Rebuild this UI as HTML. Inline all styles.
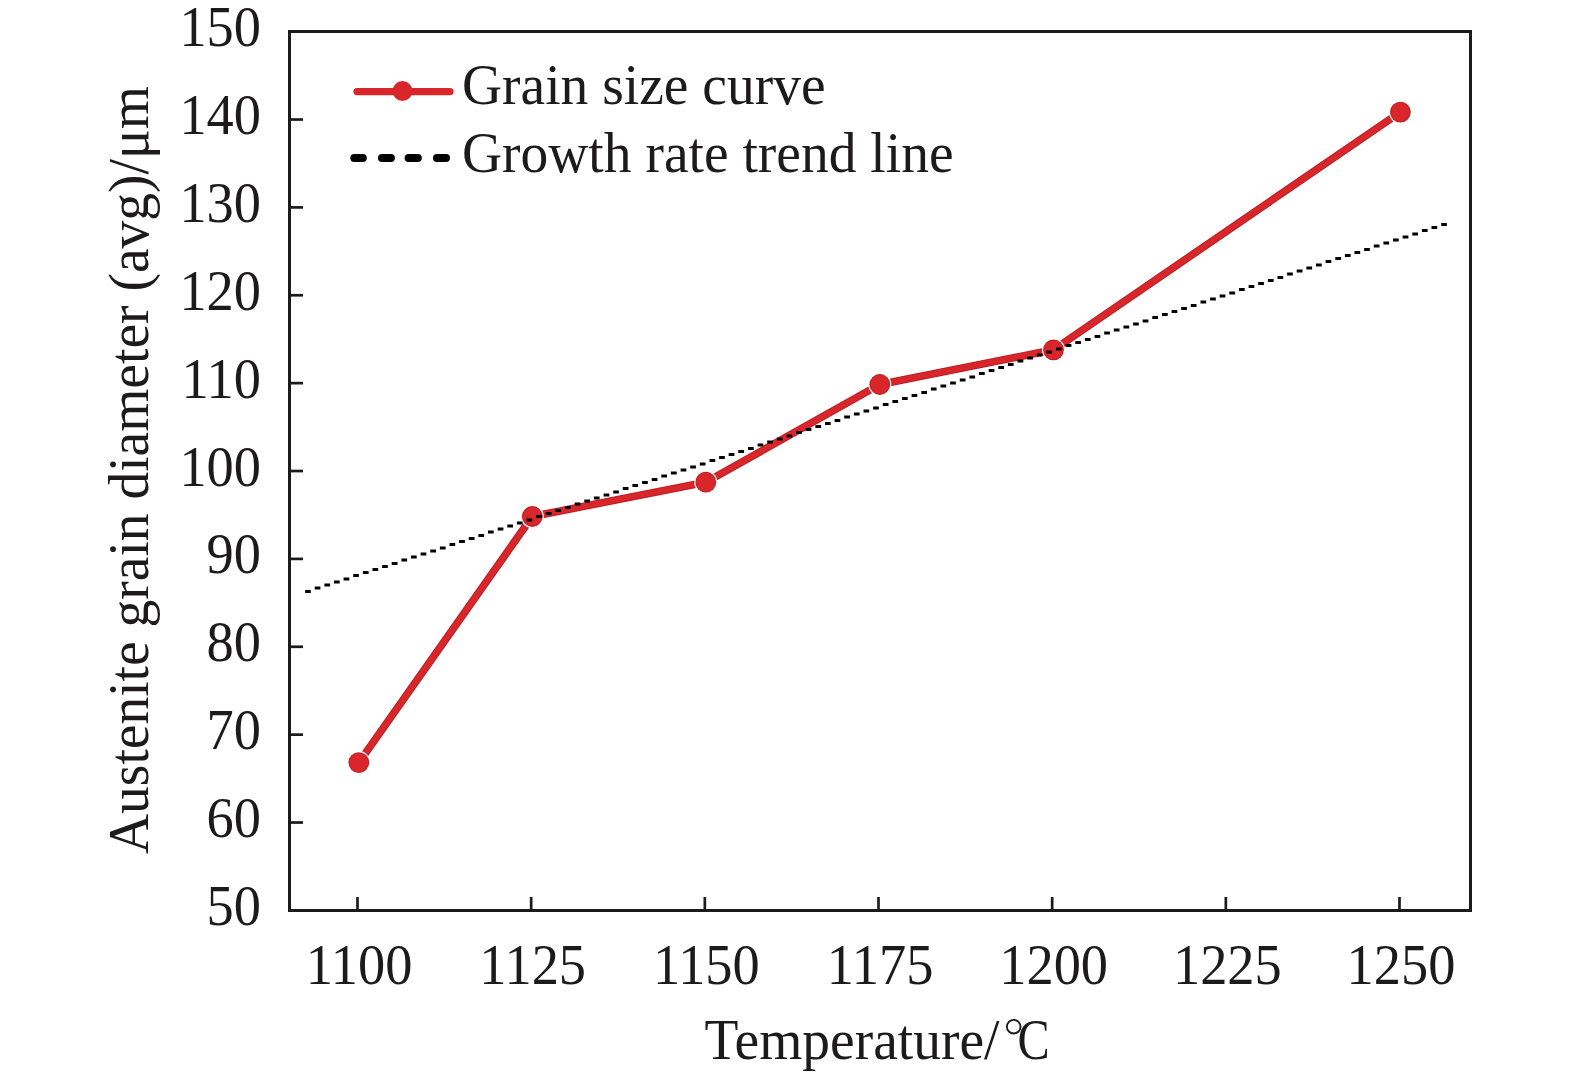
<!DOCTYPE html>
<html><head><meta charset="utf-8"><style>
html,body{margin:0;padding:0;background:#fff;width:1575px;height:1077px;overflow:hidden}
svg{display:block}
.t{font-family:"Liberation Serif",serif;font-size:55.5px;fill:#1d1a1b}
</style></head><body>
<svg width="1575" height="1077" viewBox="0 0 1575 1077">
<rect x="289.5" y="31.5" width="1181" height="879" fill="none" stroke="#1d1a1b" stroke-width="3"/>
<line x1="289.5" y1="822.52" x2="303" y2="822.52" stroke="#1d1a1b" stroke-width="2.7"/>
<line x1="289.5" y1="734.65" x2="303" y2="734.65" stroke="#1d1a1b" stroke-width="2.7"/>
<line x1="289.5" y1="646.77" x2="303" y2="646.77" stroke="#1d1a1b" stroke-width="2.7"/>
<line x1="289.5" y1="558.90" x2="303" y2="558.90" stroke="#1d1a1b" stroke-width="2.7"/>
<line x1="289.5" y1="471.02" x2="303" y2="471.02" stroke="#1d1a1b" stroke-width="2.7"/>
<line x1="289.5" y1="383.15" x2="303" y2="383.15" stroke="#1d1a1b" stroke-width="2.7"/>
<line x1="289.5" y1="295.27" x2="303" y2="295.27" stroke="#1d1a1b" stroke-width="2.7"/>
<line x1="289.5" y1="207.40" x2="303" y2="207.40" stroke="#1d1a1b" stroke-width="2.7"/>
<line x1="289.5" y1="119.52" x2="303" y2="119.52" stroke="#1d1a1b" stroke-width="2.7"/>
<line x1="357.50" y1="909" x2="357.50" y2="897" stroke="#1d1a1b" stroke-width="2.7"/>
<line x1="531.17" y1="909" x2="531.17" y2="897" stroke="#1d1a1b" stroke-width="2.7"/>
<line x1="704.83" y1="909" x2="704.83" y2="897" stroke="#1d1a1b" stroke-width="2.7"/>
<line x1="878.50" y1="909" x2="878.50" y2="897" stroke="#1d1a1b" stroke-width="2.7"/>
<line x1="1052.17" y1="909" x2="1052.17" y2="897" stroke="#1d1a1b" stroke-width="2.7"/>
<line x1="1225.83" y1="909" x2="1225.83" y2="897" stroke="#1d1a1b" stroke-width="2.7"/>
<line x1="1399.50" y1="909" x2="1399.50" y2="897" stroke="#1d1a1b" stroke-width="2.7"/>
<text transform="translate(261.00,924.90) scale(0.98,1.035)" text-anchor="end" class="t">50</text>
<text transform="translate(261.00,837.02) scale(0.98,1.035)" text-anchor="end" class="t">60</text>
<text transform="translate(261.00,749.15) scale(0.98,1.035)" text-anchor="end" class="t">70</text>
<text transform="translate(261.00,661.27) scale(0.98,1.035)" text-anchor="end" class="t">80</text>
<text transform="translate(261.00,573.40) scale(0.98,1.035)" text-anchor="end" class="t">90</text>
<text transform="translate(261.00,485.52) scale(0.98,1.035)" text-anchor="end" class="t">100</text>
<text transform="translate(261.00,397.65) scale(0.98,1.035)" text-anchor="end" class="t">110</text>
<text transform="translate(261.00,309.77) scale(0.98,1.035)" text-anchor="end" class="t">120</text>
<text transform="translate(261.00,221.90) scale(0.98,1.035)" text-anchor="end" class="t">130</text>
<text transform="translate(261.00,134.02) scale(0.98,1.035)" text-anchor="end" class="t">140</text>
<text transform="translate(261.00,46.15) scale(0.98,1.035)" text-anchor="end" class="t">150</text>
<text transform="translate(359.00,984.00) scale(0.98,1.035)" text-anchor="middle" class="t">1100</text>
<text transform="translate(532.67,984.00) scale(0.98,1.035)" text-anchor="middle" class="t">1125</text>
<text transform="translate(706.33,984.00) scale(0.98,1.035)" text-anchor="middle" class="t">1150</text>
<text transform="translate(880.00,984.00) scale(0.98,1.035)" text-anchor="middle" class="t">1175</text>
<text transform="translate(1053.67,984.00) scale(0.98,1.035)" text-anchor="middle" class="t">1200</text>
<text transform="translate(1227.33,984.00) scale(0.98,1.035)" text-anchor="middle" class="t">1225</text>
<text transform="translate(1401.00,984.00) scale(0.98,1.035)" text-anchor="middle" class="t">1250</text>
<text transform="translate(704.50,1059.00) scale(1.0,1.035)" class="t">Temperature/</text>
<circle cx="1013.7" cy="1026.7" r="6.8" fill="none" stroke="#1d1a1b" stroke-width="1.8"/>
<text transform="translate(1017.50,1059.00) scale(0.87,1.044)" class="t">C</text>
<text transform="translate(148,854) rotate(-90) scale(1,1.035)" class="t">Austenite grain diameter (avg)/μm</text>
<path d="M358.8,762.6 L532.3,516.5 L705.8,482.2 L879.8,384.5 L1053.5,349.8 L1400.4,112.1" fill="none" stroke="#b51f23" stroke-width="7.6" stroke-linejoin="round"/>
<path d="M358.8,762.6 L532.3,516.5 L705.8,482.2 L879.8,384.5 L1053.5,349.8 L1400.4,112.1" fill="none" stroke="#d9262a" stroke-width="5.8" stroke-linejoin="round"/>
<circle cx="358.8" cy="762.6" r="11.5" fill="#fff"/>
<circle cx="358.8" cy="762.6" r="10.4" fill="#b51f23"/>
<circle cx="358.8" cy="762.6" r="9.6" fill="#d9262a"/>
<circle cx="532.3" cy="516.5" r="11.5" fill="#fff"/>
<circle cx="532.3" cy="516.5" r="10.4" fill="#b51f23"/>
<circle cx="532.3" cy="516.5" r="9.6" fill="#d9262a"/>
<circle cx="705.8" cy="482.2" r="11.5" fill="#fff"/>
<circle cx="705.8" cy="482.2" r="10.4" fill="#b51f23"/>
<circle cx="705.8" cy="482.2" r="9.6" fill="#d9262a"/>
<circle cx="879.8" cy="384.5" r="11.5" fill="#fff"/>
<circle cx="879.8" cy="384.5" r="10.4" fill="#b51f23"/>
<circle cx="879.8" cy="384.5" r="9.6" fill="#d9262a"/>
<circle cx="1053.5" cy="349.8" r="11.5" fill="#fff"/>
<circle cx="1053.5" cy="349.8" r="10.4" fill="#b51f23"/>
<circle cx="1053.5" cy="349.8" r="9.6" fill="#d9262a"/>
<circle cx="1400.4" cy="112.1" r="11.5" fill="#fff"/>
<circle cx="1400.4" cy="112.1" r="10.4" fill="#b51f23"/>
<circle cx="1400.4" cy="112.1" r="9.6" fill="#d9262a"/>
<path d="M305.1 590.1H310.8V592.9H305.1ZM314.7 586.6H320.4V589.4H314.7ZM324.4 583.6H330.1V586.4H324.4ZM334.0 580.6H339.7V583.4H334.0ZM343.6 577.6H349.3V580.4H343.6ZM353.2 574.1H358.9V576.9H353.2ZM362.9 571.1H368.6V573.9H362.9ZM372.5 568.1H378.2V570.9H372.5ZM382.1 565.1H387.8V567.9H382.1ZM391.7 562.1H397.5V564.9H391.7ZM401.4 558.6H407.1V561.4H401.4ZM411.0 555.6H416.7V558.4H411.0ZM420.6 552.6H426.3V555.4H420.6ZM430.3 549.6H436.0V552.4H430.3ZM439.9 546.6H445.6V549.4H439.9ZM449.5 543.1H455.2V545.9H449.5ZM459.1 540.1H464.9V542.9H459.1ZM468.8 537.1H474.5V539.9H468.8ZM478.4 534.1H484.1V536.9H478.4ZM488.0 530.6H493.7V533.4H488.0ZM497.7 527.6H503.4V530.4H497.7ZM507.3 524.6H513.0V527.4H507.3ZM516.9 521.6H522.6V524.4H516.9ZM526.5 518.6H532.2V521.4H526.5ZM536.2 515.1H541.9V517.9H536.2ZM545.8 512.1H551.5V514.9H545.8ZM555.4 509.1H561.1V511.9H555.4ZM565.0 506.1H570.8V508.9H565.0ZM574.7 502.6H580.4V505.4H574.7ZM584.3 499.6H590.0V502.4H584.3ZM593.9 496.6H599.6V499.4H593.9ZM603.6 493.6H609.3V496.4H603.6ZM613.2 490.6H618.9V493.4H613.2ZM622.8 487.1H628.5V489.9H622.8ZM632.4 484.1H638.1V486.9H632.4ZM642.1 481.1H647.8V483.9H642.1ZM651.7 478.1H657.4V480.9H651.7ZM661.3 474.6H667.0V477.4H661.3ZM670.9 471.6H676.7V474.4H670.9ZM680.6 468.6H686.3V471.4H680.6ZM690.2 465.6H695.9V468.4H690.2ZM699.8 462.6H705.5V465.4H699.8ZM709.5 459.1H715.2V461.9H709.5ZM719.1 456.1H724.8V458.9H719.1ZM728.7 453.1H734.4V455.9H728.7ZM738.3 450.1H744.1V452.9H738.3ZM748.0 447.1H753.7V449.9H748.0ZM757.6 443.6H763.3V446.4H757.6ZM767.2 440.6H772.9V443.4H767.2ZM776.9 437.6H782.6V440.4H776.9ZM786.5 434.6H792.2V437.4H786.5ZM796.1 431.1H801.8V433.9H796.1ZM805.7 428.1H811.4V430.9H805.7ZM815.4 425.1H821.1V427.9H815.4ZM825.0 422.1H830.7V424.9H825.0ZM834.6 419.1H840.3V421.9H834.6ZM844.2 415.6H850.0V418.4H844.2ZM853.9 412.6H859.6V415.4H853.9ZM863.5 409.6H869.2V412.4H863.5ZM873.1 406.6H878.8V409.4H873.1ZM882.8 403.1H888.5V405.9H882.8ZM892.4 400.1H898.1V402.9H892.4ZM902.0 397.1H907.7V399.9H902.0ZM911.6 394.1H917.3V396.9H911.6ZM921.3 391.1H927.0V393.9H921.3ZM930.9 387.6H936.6V390.4H930.9ZM940.5 384.6H946.2V387.4H940.5ZM950.1 381.6H955.9V384.4H950.1ZM959.8 378.6H965.5V381.4H959.8ZM969.4 375.6H975.1V378.4H969.4ZM979.0 372.1H984.7V374.9H979.0ZM988.7 369.1H994.4V371.9H988.7ZM998.3 366.1H1004.0V368.9H998.3ZM1007.9 363.1H1013.6V365.9H1007.9ZM1017.5 359.6H1023.3V362.4H1017.5ZM1027.2 356.6H1032.9V359.4H1027.2ZM1036.8 353.6H1042.5V356.4H1036.8ZM1046.4 350.6H1052.1V353.4H1046.4ZM1056.1 347.6H1061.8V350.4H1056.1ZM1065.7 344.1H1071.4V346.9H1065.7ZM1075.3 341.1H1081.0V343.9H1075.3ZM1084.9 338.1H1090.6V340.9H1084.9ZM1094.6 335.1H1100.3V337.9H1094.6ZM1104.2 331.6H1109.9V334.4H1104.2ZM1113.8 328.6H1119.5V331.4H1113.8ZM1123.4 325.6H1129.2V328.4H1123.4ZM1133.1 322.6H1138.8V325.4H1133.1ZM1142.7 319.6H1148.4V322.4H1142.7ZM1152.3 316.1H1158.0V318.9H1152.3ZM1162.0 313.1H1167.7V315.9H1162.0ZM1171.6 310.1H1177.3V312.9H1171.6ZM1181.2 307.1H1186.9V309.9H1181.2ZM1190.8 304.1H1196.5V306.9H1190.8ZM1200.5 300.6H1206.2V303.4H1200.5ZM1210.1 297.6H1215.8V300.4H1210.1ZM1219.7 294.6H1225.4V297.4H1219.7ZM1229.3 291.6H1235.1V294.4H1229.3ZM1239.0 288.1H1244.7V290.9H1239.0ZM1248.6 285.1H1254.3V287.9H1248.6ZM1258.2 282.1H1263.9V284.9H1258.2ZM1267.9 279.1H1273.6V281.9H1267.9ZM1277.5 276.1H1283.2V278.9H1277.5ZM1287.1 272.6H1292.8V275.4H1287.1ZM1296.7 269.6H1302.5V272.4H1296.7ZM1306.4 266.6H1312.1V269.4H1306.4ZM1316.0 263.6H1321.7V266.4H1316.0ZM1325.6 260.1H1331.3V262.9H1325.6ZM1335.3 257.1H1341.0V259.9H1335.3ZM1344.9 254.1H1350.6V256.9H1344.9ZM1354.5 251.1H1360.2V253.9H1354.5ZM1364.1 248.1H1369.8V250.9H1364.1ZM1373.8 244.6H1379.5V247.4H1373.8ZM1383.4 241.6H1389.1V244.4H1383.4ZM1393.0 238.6H1398.7V241.4H1393.0ZM1402.6 235.6H1408.4V238.4H1402.6ZM1412.3 232.6H1418.0V235.4H1412.3ZM1421.9 229.1H1427.6V231.9H1421.9ZM1431.5 226.1H1437.2V228.9H1431.5ZM1441.2 223.1H1446.9V225.9H1441.2Z" fill="#000"/>
<line x1="357" y1="91.6" x2="450" y2="91.6" stroke="#d9262a" stroke-width="7.2" stroke-linecap="round"/>
<circle cx="402.5" cy="91" r="10" fill="#d9262a"/>
<line x1="354.3" y1="158" x2="362.8" y2="158" stroke="#000" stroke-width="8" stroke-linecap="round"/>
<line x1="382" y1="158" x2="390.9" y2="158" stroke="#000" stroke-width="8" stroke-linecap="round"/>
<line x1="408.6" y1="158" x2="417.8" y2="158" stroke="#000" stroke-width="8" stroke-linecap="round"/>
<line x1="437" y1="158" x2="446" y2="158" stroke="#000" stroke-width="8" stroke-linecap="round"/>
<text transform="translate(462.00,104.00) scale(1.0,1.035)" class="t">Grain size curve</text>
<text transform="translate(462.00,172.00) scale(1.0,1.035)" class="t">Growth rate trend line</text>
</svg>
</body></html>
